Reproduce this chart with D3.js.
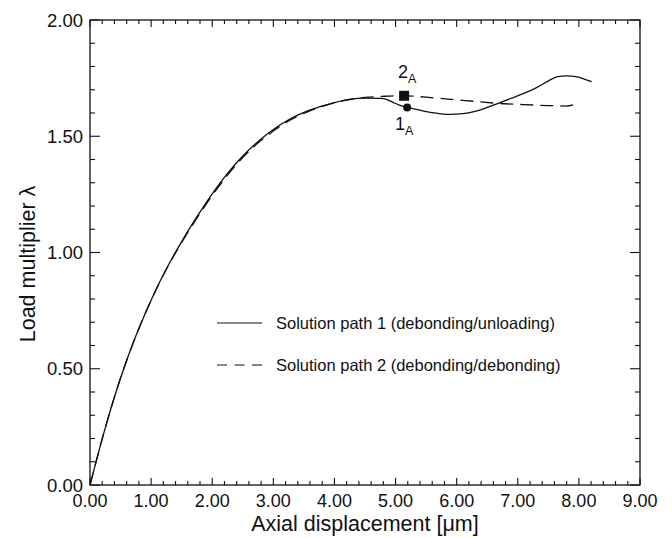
<!DOCTYPE html>
<html><head><meta charset="utf-8">
<script src="https://cdn.jsdelivr.net/npm/d3@7"></script>
<style>body{margin:0;background:#fff}svg{display:block}text{font-family:"Liberation Sans",Arial,Helvetica,sans-serif;fill:#111}</style>
</head><body>
<svg id="c" width="672" height="538"></svg>
<script>
// Solution path 1 (debonding/unloading)
const path1X = [0,0.25,0.5,0.75,0.79,1.0,1.25,1.36,1.5,1.75,2.0,2.13,2.25,2.5,2.78,3.0,3.25,3.55,3.75,4.0,4.25,4.5,4.75,4.85,4.95,5.05,5.19,5.4,5.6,5.9,6.1,6.3,6.5,6.7,6.9,7.1,7.3,7.5,7.65,7.8,7.95,8.1,8.21];
const path1Y = [0,0.246,0.46,0.641,0.667,0.795,0.93,0.983,1.047,1.154,1.252,1.299,1.34,1.415,1.484,1.529,1.571,1.608,1.626,1.645,1.659,1.664,1.663,1.659,1.647,1.635,1.624,1.612,1.602,1.594,1.597,1.607,1.624,1.644,1.664,1.684,1.708,1.738,1.756,1.760,1.756,1.745,1.735];
// Solution path 2 (debonding/debonding)
const path2X = [0,0.25,0.5,0.75,1.0,1.25,1.5,1.75,2.0,2.25,2.5,2.78,3.0,3.25,3.55,3.75,4.0,4.25,4.5,4.75,5.0,5.14,5.5,5.9,6.3,6.7,7.1,7.5,7.8,7.95,8.0];
const path2Y = [0,0.246,0.46,0.641,0.795,0.928,1.043,1.148,1.245,1.333,1.408,1.478,1.523,1.566,1.604,1.624,1.644,1.658,1.667,1.671,1.674,1.674,1.668,1.659,1.65,1.641,1.636,1.632,1.630,1.638,1.641];
const point1 = {x:5.19, y:1.624, label:"1", sub:"A"};
const point2 = {x:5.14, y:1.674, label:"2", sub:"A"};
const xMajor = [0,1,2,3,4,5,6,7,8,9];
const yMajor = [0,0.5,1.0,1.5,2.0];
const legendLabels = ["Solution path 1 (debonding/unloading)","Solution path 2 (debonding/debonding)"];

const L=90,R=640,T=20,B=485;
const svg=d3.select("#c");
const x=d3.scaleLinear().domain([0,9]).range([L,R]);
const y=d3.scaleLinear().domain([0,2]).range([B,T]);

// minor/major ticks on all sides (inward)
const xMinor=d3.range(0,9.0001,0.2).filter(v=>Math.abs(v-Math.round(v))>1e-6);
const yMinor=d3.range(0,2.0001,0.1).filter(v=>Math.abs(v*2-Math.round(v*2))>1e-6);
const tg=svg.append("g").attr("stroke","#111").attr("stroke-width",1.1);
function xt(vals,len){vals.forEach(v=>{tg.append("line").attr("x1",x(v)).attr("x2",x(v)).attr("y1",B).attr("y2",B-len);tg.append("line").attr("x1",x(v)).attr("x2",x(v)).attr("y1",T).attr("y2",T+len);});}
function yt(vals,len){vals.forEach(v=>{tg.append("line").attr("y1",y(v)).attr("y2",y(v)).attr("x1",L).attr("x2",L+len);tg.append("line").attr("y1",y(v)).attr("y2",y(v)).attr("x1",R).attr("x2",R-len);});}
xt(xMinor,4);xt(xMajor,7);yt(yMinor,5);yt(yMajor,10);

svg.append("rect").attr("x",L).attr("y",T).attr("width",R-L).attr("height",B-T).attr("fill","none").attr("stroke","#111").attr("stroke-width",1.3);

// tick labels
svg.append("g").selectAll("text").data(xMajor).join("text").attr("x",d=>x(d)).attr("y",507).attr("text-anchor","middle").attr("font-size",18).text(d=>d.toFixed(2));
svg.append("g").selectAll("text").data(yMajor).join("text").attr("x",83).attr("y",d=>y(d)+6.5).attr("text-anchor","end").attr("font-size",18.5).text(d=>d.toFixed(2));

// axis titles
svg.append("text").attr("x",(L+R)/2).attr("y",531).attr("text-anchor","middle").attr("font-size",21.5).text("Axial displacement [\u03bcm]");
svg.append("text").attr("transform","translate(35,264) rotate(-90)").attr("text-anchor","middle").attr("font-size",21.5).text("Load multiplier \u03bb");

// curves
const line=d3.line().x(d=>x(d[0])).y(d=>y(d[1])).curve(d3.curveMonotoneX);
svg.append("path").datum(path1X.map((v,i)=>[v,path1Y[i]])).attr("d",line).attr("fill","none").attr("stroke","#111").attr("stroke-width",1.3);
svg.append("path").datum(path2X.map((v,i)=>[v,path2Y[i]])).attr("d",line).attr("fill","none").attr("stroke","#111").attr("stroke-width",1.3).attr("stroke-dasharray","13,7");

// markers
svg.append("circle").attr("cx",x(point1.x)).attr("cy",y(point1.y)).attr("r",4).attr("fill","#111");
svg.append("rect").attr("x",x(point2.x)-5).attr("y",y(point2.y)-5).attr("width",10).attr("height",10).attr("fill","#111");
function lab(p,dx,dy){const t=svg.append("text").attr("x",x(p.x)+dx).attr("y",y(p.y)+dy).attr("font-size",18).attr("text-anchor","middle");t.append("tspan").text(p.label);t.append("tspan").attr("font-size",12.5).attr("dy",5).text(p.sub);}
lab(point2,3,-18);
lab(point1,-3,23);

// legend
const lg=svg.append("g");
[0,1].forEach(i=>{
  const yy=323+i*42;
  lg.append("line").attr("x1",217).attr("x2",262).attr("y1",yy).attr("y2",yy).attr("stroke","#111").attr("stroke-width",1.2).attr("stroke-dasharray",i?"10,7.5":null);
  lg.append("text").attr("x",276).attr("y",yy+6).attr("font-size",16.5).text(legendLabels[i]);
});
</script>
</body></html>
